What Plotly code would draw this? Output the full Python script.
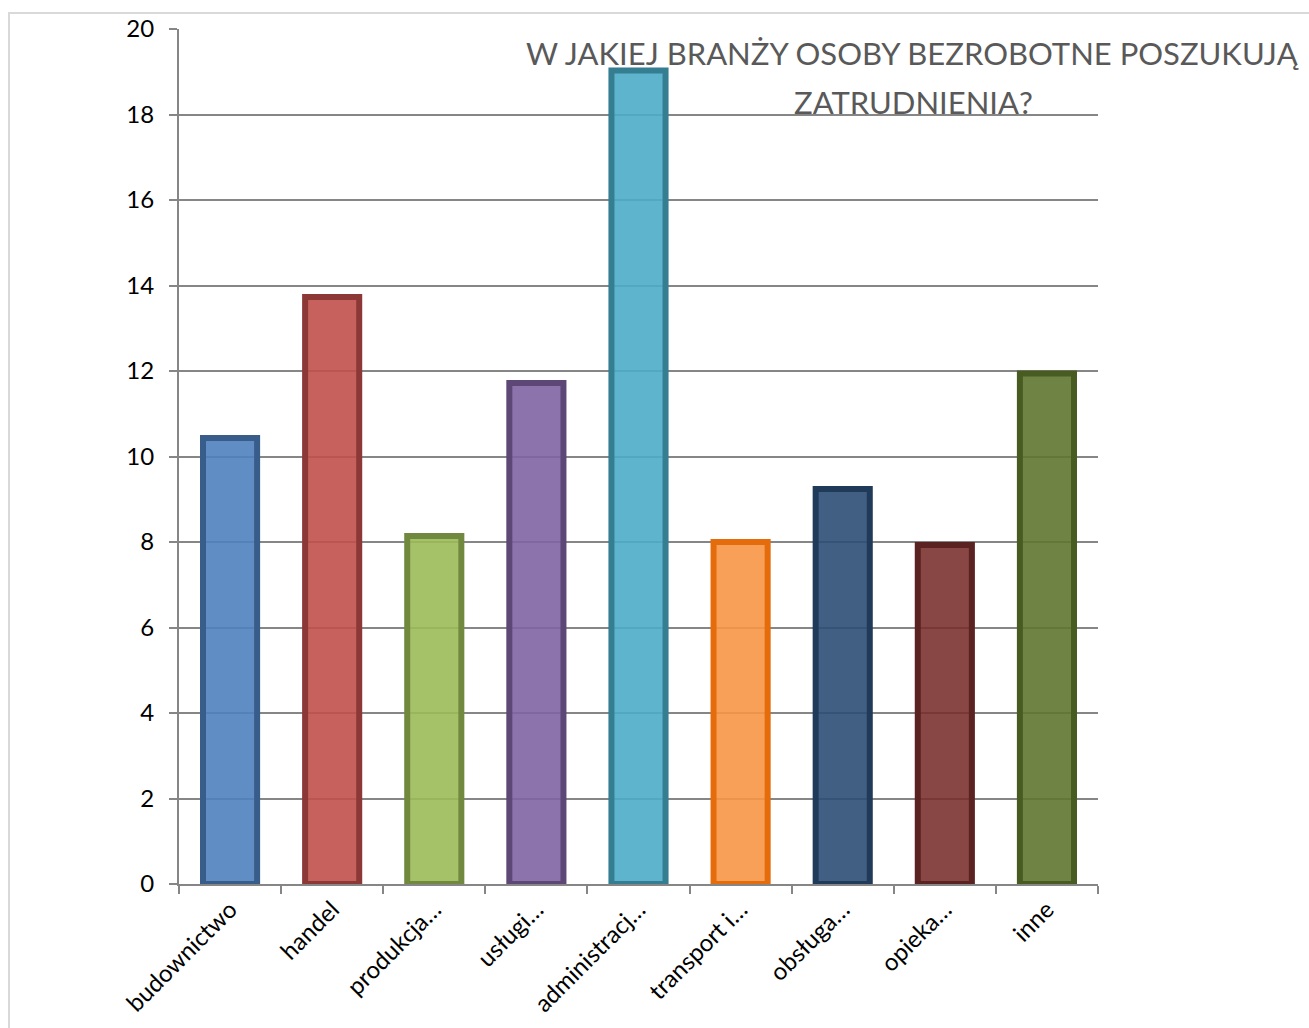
import plotly.graph_objects as go

# Share of unemployed respondents by the sector in which they look for work
categories = ["budownictwo", "handel", "produkcja…", "usługi…", "administracj…",
              "transport i…", "obsługa…", "opieka…", "inne"]
values = [10.43, 13.73, 8.14, 11.72, 19.03, 8.0, 9.24, 7.93, 11.94]

fill_colors = ["rgba(79,129,189,0.90)", "rgba(192,80,77,0.90)", "rgba(155,187,89,0.90)",
               "rgba(128,100,162,0.90)", "rgba(75,172,198,0.90)", "rgba(247,150,70,0.90)",
               "rgba(44,77,117,0.90)", "rgba(119,44,42,0.88)", "rgba(95,117,48,0.90)"]
line_colors = ["#385d8a", "#8c3836", "#71893f", "#5c4776", "#357d91",
               "#e46c0a", "#203a5a", "#5a2220", "#485c22"]

title_lines = ["W JAKIEJ BRANŻY OSOBY BEZROBOTNE POSZUKUJĄ", "ZATRUDNIENIA?"]
y_ticks = list(range(0, 21, 2))

FONT = "Lato"
W, H = 1309, 1028
L, R, T, B = 179, 211, 29, 144

fig = go.Figure()
fig.add_trace(go.Bar(
    x=categories, y=values, width=0.53,
    marker=dict(color=fill_colors, line=dict(color=line_colors, width=6)),
    showlegend=False,
))

pw, ph = W - L - R, H - T - B
def px_x(p):
    return (p - L) / pw
def px_y(p):
    return (H - B - p) / ph

# outer chart frame
fig.add_shape(type="rect", xref="paper", yref="paper",
              x0=px_x(9), x1=px_x(1330), y0=px_y(1050), y1=px_y(13),
              line=dict(color="#d9d9d9", width=2), fillcolor="rgba(0,0,0,0)", layer="below")

# two-line title
for txt, yc in zip(title_lines, [53, 102]):
    fig.add_annotation(text=txt, xref="paper", yref="paper", x=px_x(913), y=px_y(yc),
                       xanchor="center", yanchor="middle", showarrow=False,
                       font=dict(family=FONT, size=31, color="#595959"))

fig.update_layout(
    width=W, height=H, autosize=False,
    margin=dict(l=L, r=R, t=T, b=B),
    paper_bgcolor="white", plot_bgcolor="white",
    font=dict(family=FONT, color="black"),
    bargap=0.47,
)
fig.update_xaxes(
    tickangle=-45, tickfont=dict(size=24, color="black"),
    showline=True, linecolor="#868686", linewidth=2,
    ticks="outside", tickson="boundaries", ticklen=8, tickcolor="#868686", tickwidth=2,
    showgrid=False,
)
fig.update_yaxes(
    range=[0, 20], tickvals=y_ticks, tickfont=dict(size=24, color="black"),
    showline=True, linecolor="#868686", linewidth=2,
    ticks="outside", ticklen=8, tickcolor="#868686", tickwidth=2, ticklabelstandoff=10,
    showgrid=True, gridcolor="#868686", gridwidth=1.5, zeroline=False,
)

fig.write_html("out.html")
